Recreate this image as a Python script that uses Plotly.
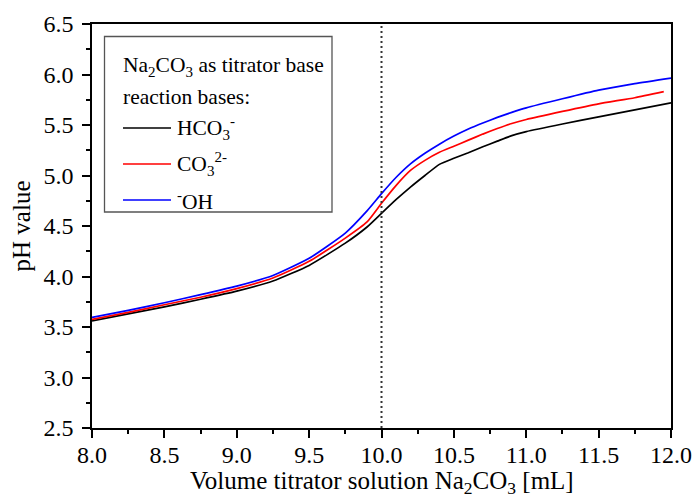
import plotly.graph_objects as go

# ---- data ----
volume_ml = [8.0, 8.25, 8.5, 8.75, 9.0, 9.25, 9.5, 9.75, 9.9, 10.0, 10.1, 10.2,
             10.3, 10.4, 10.5, 10.6, 10.7, 10.8, 10.9, 11.0, 11.25, 11.5, 11.75, 12.0]
ph_hco3 = [3.56, 3.63, 3.70, 3.775, 3.855, 3.955, 4.11, 4.33, 4.49, 4.625, 4.76, 4.885,
           5.00, 5.11, 5.17, 5.225, 5.285, 5.34, 5.395, 5.435, 5.51, 5.58, 5.65, 5.72]
ph_co3 = [3.575, 3.645, 3.72, 3.795, 3.88, 3.985, 4.15, 4.38, 4.54, 4.725, 4.90, 5.05,
          5.15, 5.23, 5.29, 5.35, 5.41, 5.465, 5.515, 5.555, 5.635, 5.71, 5.77, 5.83]
volume_co3 = volume_ml[:-1] + [11.95]
ph_oh = [3.595, 3.665, 3.74, 3.82, 3.905, 4.01, 4.18, 4.43, 4.65, 4.82, 4.98, 5.115,
         5.22, 5.31, 5.39, 5.46, 5.52, 5.575, 5.625, 5.67, 5.76, 5.845, 5.91, 5.965]

series_names = ["HCO<sub>3</sub><sup>-</sup>", "CO<sub>3</sub><sup>2-</sup>", "<sup>-</sup>OH"]
series_colors = ["#000000", "#ff0000", "#0000ff"]
equivalence_ml = 10.0

x_ticks = [8.0, 8.5, 9.0, 9.5, 10.0, 10.5, 11.0, 11.5, 12.0]
y_ticks = [2.5, 3.0, 3.5, 4.0, 4.5, 5.0, 5.5, 6.0, 6.5]

x_title = "Volume titrator solution Na<sub>2</sub>CO<sub>3</sub> [mL]"
y_title = "pH value"
legend_title_1 = "Na<sub>2</sub>CO<sub>3</sub> as titrator base"
legend_title_2 = "reaction bases:"

FONT = "Liberation Serif, Times New Roman, serif"
W, H = 697, 495
L, R, T, B = 92, 26, 24, 67
PW, PH = W - L - R, H - T - B


def xp(px):
    return (px - L) / PW


def yp(py):
    return (H - B - py) / PH


fig = go.Figure()
xs = [volume_ml, volume_co3, volume_ml]
ys = [ph_hco3, ph_co3, ph_oh]
for xv, yv, name, col in zip(xs, ys, series_names, series_colors):
    fig.add_trace(go.Scatter(x=xv, y=yv, mode="lines", name=name,
                             line=dict(color=col, width=1.7, shape="spline", smoothing=0.5),
                             showlegend=False))

# vertical dotted line at equivalence
fig.add_shape(type="line", xref="x", yref="paper", x0=equivalence_ml, x1=equivalence_ml,
              y0=0, y1=1, line=dict(color="#333333", width=2, dash="2px,3px"))

# manual legend box
fig.add_shape(type="rect", xref="paper", yref="paper",
              x0=xp(104.5), x1=xp(332), y0=yp(36.5), y1=yp(212),
              line=dict(color="#555555", width=1.3), fillcolor="rgba(0,0,0,0)")

ann = []
ann.append(dict(text=legend_title_1, x=xp(121), y=yp(66), xref="paper", yref="paper",
                xanchor="left", yanchor="middle", showarrow=False,
                font=dict(family=FONT, size=21.5, color="black")))
ann.append(dict(text=legend_title_2, x=xp(121), y=yp(97), xref="paper", yref="paper",
                xanchor="left", yanchor="middle", showarrow=False,
                font=dict(family=FONT, size=21.5, color="black")))
item_y = [128, 164, 200]
for name, col, iy in zip(series_names, series_colors, item_y):
    fig.add_shape(type="line", xref="paper", yref="paper", x0=xp(123), x1=xp(171),
                  y0=yp(iy), y1=yp(iy), line=dict(color=col, width=1.7))
    ann.append(dict(text=name, x=xp(175), y=yp(iy), xref="paper", yref="paper",
                    xanchor="left", yanchor="middle", showarrow=False,
                    font=dict(family=FONT, size=21.5, color="black")))

# x-axis title placed as a paper annotation for exact vertical position
ann.append(dict(text=x_title, x=0.5, y=yp(482), xref="paper", yref="paper",
                xanchor="center", yanchor="middle", showarrow=False,
                font=dict(family=FONT, size=25, color="black")))

fig.update_layout(
    width=W, height=H,
    margin=dict(l=L, r=R, t=T, b=B, autoexpand=False),
    paper_bgcolor="white", plot_bgcolor="white",
    font=dict(family=FONT, size=22, color="black"),
    annotations=ann,
    showlegend=False,
)
fig.update_xaxes(range=[8.0, 12.0], tickvals=x_ticks, ticktext=[f"{v:.1f}" for v in x_ticks],
                 ticks="outside", ticklen=8, tickwidth=1.5, tickcolor="black",
                 minor=dict(dtick=0.25, tick0=8.0, ticks="outside", ticklen=4, tickwidth=1.5,
                            tickcolor="black", showgrid=False),
                 showline=True, linecolor="black", linewidth=1.5, mirror=True,
                 showgrid=False, zeroline=False, automargin=False, ticklabelstandoff=-4,
                 tickfont=dict(family=FONT, size=24))
fig.update_yaxes(range=[2.5, 6.5], tickvals=y_ticks, ticktext=[f"{v:.1f}" for v in y_ticks],
                 ticks="outside", ticklen=8, tickwidth=1.5, tickcolor="black",
                 minor=dict(dtick=0.25, tick0=2.5, ticks="outside", ticklen=4, tickwidth=1.5,
                            tickcolor="black", showgrid=False),
                 showline=True, linecolor="black", linewidth=1.5, mirror=True,
                 showgrid=False, zeroline=False, automargin=True, ticklabelstandoff=4,
                 tickfont=dict(family=FONT, size=24),
                 title=dict(text=y_title, font=dict(family=FONT, size=25), standoff=6))

fig.write_html("out.html", config={"displayModeBar": False},
               post_script="document.body.style.margin='0';")
